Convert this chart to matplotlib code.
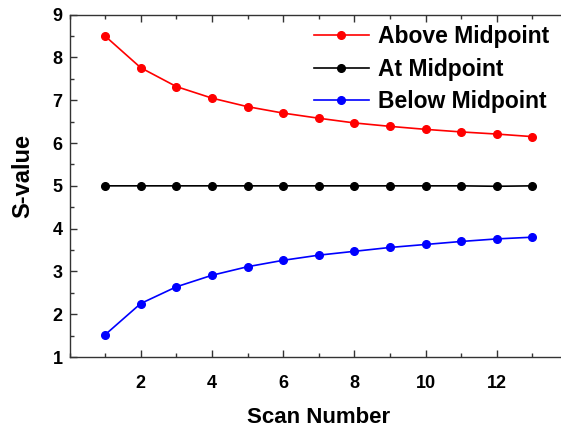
import matplotlib
matplotlib.use("Agg")
import matplotlib.pyplot as plt
from matplotlib.ticker import MultipleLocator

plt.rcParams['font.family'] = ['Liberation Sans', 'DejaVu Sans']
plt.rcParams['font.weight'] = 'bold'

scan = [1, 2, 3, 4, 5, 6, 7, 8, 9, 10, 11, 12, 13]
above = [8.50, 7.76, 7.32, 7.05, 6.85, 6.70, 6.58, 6.47, 6.39, 6.32, 6.26, 6.21, 6.15]
at_mid = [5.0, 5.0, 5.0, 5.0, 5.0, 5.0, 5.0, 5.0, 5.0, 5.0, 5.0, 4.99, 5.0]
below = [1.52, 2.25, 2.64, 2.91, 3.11, 3.26, 3.38, 3.47, 3.56, 3.63, 3.70, 3.76, 3.80]

fig = plt.figure(figsize=(5.61, 4.29), dpi=100)
ax = fig.add_axes([0.1239, 0.1678, 0.8886, 0.798])

ax.plot(scan, above, '-o', color='#ff0000', lw=1.2, ms=5.5, label='Above Midpoint')
ax.plot(scan, at_mid, '-o', color='black', lw=1.2, ms=5.5, label='At Midpoint')
ax.plot(scan, below, '-o', color='#0000ff', lw=1.2, ms=5.5, label='Below Midpoint')

ax.set_xlim(0, 14)
ax.set_ylim(1, 9)
ax.xaxis.set_major_locator(MultipleLocator(2))
ax.xaxis.set_minor_locator(MultipleLocator(1))
ax.yaxis.set_major_locator(MultipleLocator(1))
ax.yaxis.set_minor_locator(MultipleLocator(0.5))
ax.set_xticks([2, 4, 6, 8, 10, 12])

ax.tick_params(which='both', direction='in', top=True, right=True, color='#333333', width=1)
ax.tick_params(which='major', length=5, labelsize=13)
ax.tick_params(which='minor', length=3)
ax.tick_params(axis='x', which='major', pad=13)
ax.tick_params(axis='y', which='major', pad=5)
for s in ax.spines.values():
    s.set_color('#333333')
    s.set_linewidth(1)

ax.set_xlabel('Scan Number', fontsize=16, fontweight='bold', labelpad=11)
ax.set_ylabel('S-value', fontsize=17, fontweight='bold')
ax.yaxis.set_label_coords(-0.07, 0.53)

ax.legend(loc='upper right', bbox_to_anchor=(0.99, 1.01), frameon=False,
          prop={'size': 16.5, 'weight': 'bold'}, handlelength=2.4,
          handletextpad=0.4, labelspacing=0.42, borderaxespad=0.2)

fig.savefig('out.png', dpi=100)
